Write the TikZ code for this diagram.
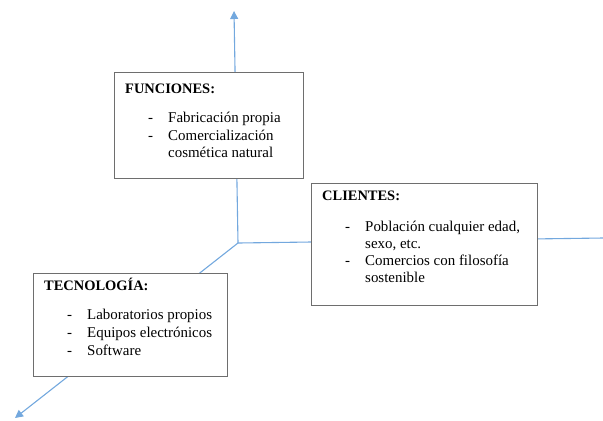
\documentclass[tikz,border=0pt]{standalone}
\usepackage{fontspec}
\setmainfont{Liberation Serif}
\usetikzlibrary{arrows.meta}
\definecolor{axisblue}{RGB}{115,168,222}
\definecolor{boxgray}{RGB}{110,110,110}
\begin{document}
\begin{tikzpicture}[x=1bp,y=-1bp,
  axis/.style={draw=axisblue,line width=1.1bp},
  axarrow/.style={axis,-{Triangle[length=8bp,width=8bp]}},
  infobox/.style={draw=boxgray,fill=white,line width=1.2bp,rectangle,inner sep=0pt,anchor=north west},
  ttl/.style={anchor=base west,inner sep=0pt,font=\fontsize{14.5}{17}\selectfont\bfseries},
  itm/.style={anchor=base west,inner sep=0pt,font=\fontsize{15}{17}\selectfont},
]
\useasboundingbox (0,0) rectangle (603,420);
\coordinate (O) at (238,243);
\coordinate (up) at (234,11);
\coordinate (rt) at (603,238);
\coordinate (dl) at (15,418);
\draw[axarrow] (O) -- (up);
\draw[axis] (O) -- (rt);
\draw[axarrow] (O) -- (dl);

% FUNCIONES
\node[infobox,minimum width=189bp,minimum height=106bp] (fbox) at (114,72) {};
\node[ttl] (ft) at (125,93) {FUNCIONES:};
\node[itm] (fd1) at (148,122) {-};
\node[itm] (f1) at (168,122) {Fabricación propia};
\node[itm] (fd2) at (148,140) {-};
\node[itm] (f2) at (168,140) {Comercialización};
\node[itm] (f3) at (168,157) {cosmética natural};

% CLIENTES
\node[infobox,minimum width=226bp,minimum height=122bp] (cbox) at (311,183) {};
\node[ttl] (ct) at (322,200) {CLIENTES:};
\node[itm] (cd1) at (345,231) {-};
\node[itm] (c1) at (365,231) {Población cualquier edad,};
\node[itm] (c2) at (365,248) {sexo, etc.};
\node[itm] (cd2) at (345,265) {-};
\node[itm] (c3) at (365,265) {Comercios con filosofía};
\node[itm] (c4) at (365,282) {sostenible};

% TECNOLOGIA
\node[infobox,minimum width=194bp,minimum height=103bp] (tbox) at (33,273) {};
\node[ttl] (tt) at (44,290) {TECNOLOGÍA:};
\node[itm] (td1) at (67,319) {-};
\node[itm] (t1) at (87,319) {Laboratorios propios};
\node[itm] (td2) at (67,337) {-};
\node[itm] (t2) at (87,337) {Equipos electrónicos};
\node[itm] (td3) at (67,355) {-};
\node[itm] (t3) at (87,355) {Software};
\end{tikzpicture}
\end{document}
